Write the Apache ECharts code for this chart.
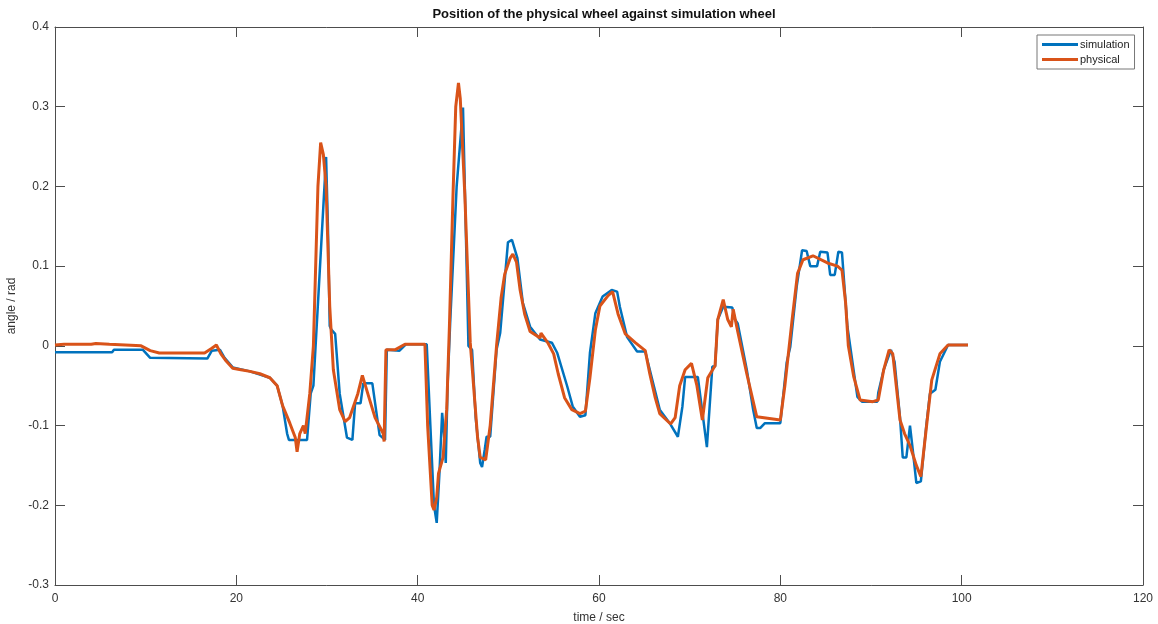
<!DOCTYPE html>
<html>
<head>
<meta charset="utf-8">
<script src="https://cdn.jsdelivr.net/npm/echarts@6/dist/echarts.min.js"></script>
<style>html,body{margin:0;padding:0;background:#fff;}#c{width:1158px;height:624px;}</style>
</head>
<body>
<div id="c"></div>
<script>
const chartTitle = 'Position of the physical wheel against simulation wheel';
const xName = 'time / sec';
const yName = 'angle / rad';
const seriesNames = ['simulation', 'physical'];
const xTicks = [0, 20, 40, 60, 80, 100, 120];
const yTicks = [-0.3, -0.2, -0.1, 0, 0.1, 0.2, 0.3, 0.4];

const simT = [0,6.3,6.5,9.7,10.5,16.8,17.3,18.2,18.7,19.6,21.5,23.7,24.5,25.1,25.6,25.8,27.0,27.8,28.2,28.5,29.9,30.1,30.3,30.5,30.9,31.4,32.2,32.8,33.1,33.7,34.0,35.0,35.8,36.4,36.6,38.0,38.7,41.0,41.4,41.8,42.1,42.4,42.7,42.9,43.1,43.3,43.6,44.3,45.0,45.3,45.6,46.0,46.4,46.9,47.1,47.4,47.6,48.0,48.7,49.1,49.96,50.4,51.0,51.6,52.4,53.5,54.8,55.4,56.5,57.1,57.9,58.5,59.0,59.6,60.4,61.4,62.0,62.3,63.1,64.2,65.1,65.6,66.7,67.8,68.7,69.2,69.5,70.9,71.9,72.5,72.8,73.1,73.7,74.7,75.0,75.3,76.3,77.0,77.4,77.8,78.3,80.0,80.7,81.1,81.8,82.4,82.9,83.3,84.05,84.4,85.2,85.5,86.0,86.4,86.8,87.1,87.4,87.6,88.5,89.0,90.7,90.8,91.4,92.2,92.6,93.2,93.5,93.9,94.3,94.6,95.0,95.5,96.1,96.5,97.1,97.6,98.5,100.7];
const simV = [-0.008,-0.008,-0.005,-0.005,-0.015,-0.016,-0.006,-0.005,-0.015,-0.027,-0.032,-0.04,-0.05,-0.075,-0.11,-0.118,-0.118,-0.118,-0.06,-0.05,0.237,0.15,0.025,0.02,0.015,-0.06,-0.115,-0.118,-0.072,-0.072,-0.047,-0.047,-0.112,-0.118,-0.005,-0.006,0.002,0.002,-0.1,-0.2,-0.222,-0.16,-0.084,-0.11,-0.147,-0.05,0.033,0.2,0.299,0.15,0.0,-0.005,-0.09,-0.147,-0.152,-0.13,-0.114,-0.114,-0.005,0.016,0.13,0.133,0.11,0.054,0.024,0.008,0.004,-0.009,-0.051,-0.076,-0.089,-0.087,-0.009,0.041,0.062,0.07,0.068,0.049,0.011,-0.007,-0.007,-0.03,-0.08,-0.097,-0.114,-0.076,-0.039,-0.039,-0.127,-0.026,-0.026,0.033,0.049,0.048,0.033,0.028,-0.03,-0.08,-0.103,-0.103,-0.097,-0.097,-0.021,-0.001,0.074,0.12,0.119,0.1,0.1,0.118,0.117,0.089,0.089,0.118,0.117,0.07,0.024,0.024,-0.064,-0.07,-0.07,-0.059,-0.03,-0.005,-0.02,-0.09,-0.14,-0.14,-0.1,-0.13,-0.172,-0.17,-0.1,-0.06,-0.055,-0.02,0.001,0.001];

const phyT = [0,1,4,4.5,6,9.5,10.5,11.5,16.5,17.3,17.8,18.3,18.8,19.6,20.5,21.5,22.6,23.7,24.5,25.1,25.9,26.5,26.7,27.0,27.4,27.6,28.1,28.5,29.0,29.3,29.6,29.9,30.3,30.7,31.4,32.0,32.5,33.4,33.9,34.5,35.3,36.2,36.3,36.5,37.5,38.6,40.8,41.1,41.6,41.8,42.1,42.3,42.8,43.2,43.5,43.9,44.2,44.5,44.7,45.2,45.8,46.6,46.9,47.5,48.0,48.7,49.2,49.6,50.2,50.5,50.9,51.3,51.8,52.4,53.5,53.6,54.4,55.0,55.5,56.2,57.0,57.9,58.5,59.0,59.6,60.1,61.0,61.5,62.1,62.9,64.0,65.1,65.6,66.2,66.7,67.9,68.4,68.9,69.5,70.2,70.8,71.4,72.0,72.8,73.1,73.7,74.2,74.6,74.8,75.3,76.3,77.4,80.0,80.5,81.3,81.9,82.5,83.6,85.2,86.3,86.8,87.2,87.5,88.1,88.8,90.2,90.8,91.4,92.0,92.4,93.2,93.7,94.3,95.0,95.5,96.2,96.7,97.6,98.5,100.7];
const phyV = [0.001,0.002,0.002,0.003,0.002,0.0,-0.006,-0.009,-0.009,-0.003,0.001,-0.01,-0.018,-0.028,-0.03,-0.032,-0.035,-0.04,-0.05,-0.075,-0.097,-0.115,-0.133,-0.11,-0.1,-0.11,-0.06,0.0,0.2,0.255,0.24,0.2,0.05,-0.03,-0.08,-0.095,-0.09,-0.06,-0.037,-0.06,-0.09,-0.11,-0.12,-0.005,-0.005,0.002,0.002,-0.1,-0.2,-0.206,-0.19,-0.16,-0.14,-0.08,0.024,0.19,0.3,0.33,0.31,0.19,0.004,-0.114,-0.14,-0.143,-0.1,0.0,0.06,0.09,0.11,0.115,0.105,0.07,0.04,0.018,0.01,0.016,0.003,-0.01,-0.035,-0.065,-0.08,-0.085,-0.082,-0.04,0.02,0.05,0.063,0.068,0.04,0.015,0.004,-0.006,-0.035,-0.065,-0.085,-0.098,-0.09,-0.05,-0.03,-0.022,-0.05,-0.093,-0.04,-0.025,0.033,0.058,0.033,0.024,0.046,0.018,-0.035,-0.089,-0.093,-0.05,0.033,0.091,0.108,0.113,0.104,0.1,0.095,0.054,0.0,-0.039,-0.068,-0.07,-0.068,-0.03,-0.005,-0.01,-0.093,-0.11,-0.125,-0.15,-0.164,-0.093,-0.043,-0.01,0.001,0.001];

const simData = simT.map((t, i) => [t, simV[i]]);
const phyData = phyT.map((t, i) => [t, phyV[i]]);

const axisColor = '#4d4d4d';
const labelColor = '#333';
const fontFam = '"Liberation Sans", Arial, Helvetica, sans-serif';
const fmtY = v => String(Math.round(v * 10) / 10);

const chart = echarts.init(document.getElementById('c'), null, {renderer: 'canvas'});
chart.setOption({
  animation: false,
  backgroundColor: '#fff',
  title: {
    text: chartTitle, left: 599, top: 3, textAlign: 'center',
    textStyle: {fontSize: 13, fontWeight: 'bold', color: '#111', fontFamily: fontFam}
  },
  legend: {
    data: seriesNames, orient: 'vertical', left: 1037, top: 35,
    itemWidth: 36, itemHeight: 3, itemGap: 4, icon: 'rect',
    padding: [4, 5, 4, 5], borderColor: '#777', borderWidth: 1, backgroundColor: '#fff',
    textStyle: {fontSize: 11, color: '#222', fontFamily: fontFam, padding: [0, 0, 0, -3]}
  },
  grid: {left: 55, right: 15, top: 27, bottom: 39, containLabel: false, outerBoundsMode: 'none'},
  xAxis: [{
    type: 'value', min: 0, max: 120, interval: 20, position: 'bottom',
    name: xName, nameLocation: 'middle', nameGap: 27,
    nameTextStyle: {fontSize: 12, color: labelColor, fontFamily: fontFam},
    axisLine: {show: true, onZero: false, lineStyle: {color: axisColor, width: 1}},
    axisTick: {show: true, inside: true, length: 10, lineStyle: {color: axisColor}},
    axisLabel: {fontSize: 12, color: labelColor, margin: 8, fontFamily: fontFam},
    splitLine: {show: false}
  }, {
    type: 'value', min: 0, max: 120, interval: 20, position: 'top',
    axisLine: {show: true, onZero: false, lineStyle: {color: axisColor, width: 1}},
    axisTick: {show: true, inside: true, length: 10, lineStyle: {color: axisColor}},
    axisLabel: {show: false}, splitLine: {show: false}
  }],
  yAxis: [{
    type: 'value', min: -0.3, max: 0.4, interval: 0.1, position: 'left',
    name: yName, nameLocation: 'middle', nameGap: 30, nameRotate: 90,
    nameTextStyle: {fontSize: 12, color: labelColor, fontFamily: fontFam},
    axisLine: {show: true, onZero: false, lineStyle: {color: axisColor, width: 1}},
    axisTick: {show: true, inside: true, length: 10, lineStyle: {color: axisColor}},
    axisLabel: {fontSize: 12, color: labelColor, margin: 6, fontFamily: fontFam, formatter: fmtY},
    splitLine: {show: false}
  }, {
    type: 'value', min: -0.3, max: 0.4, interval: 0.1, position: 'right',
    axisLine: {show: true, onZero: false, lineStyle: {color: axisColor, width: 1}},
    axisTick: {show: true, inside: true, length: 10, lineStyle: {color: axisColor}},
    axisLabel: {show: false}, splitLine: {show: false}
  }],
  series: [{
    name: seriesNames[0], type: 'line', data: simData, showSymbol: false, symbol: 'none',
    lineStyle: {color: '#0072BD', width: 2.5}, itemStyle: {color: '#0072BD'}, z: 2
  }, {
    name: seriesNames[1], type: 'line', data: phyData, showSymbol: false, symbol: 'none',
    lineStyle: {color: '#D95319', width: 3}, itemStyle: {color: '#D95319'}, z: 3
  }]
});
</script>
</body>
</html>
